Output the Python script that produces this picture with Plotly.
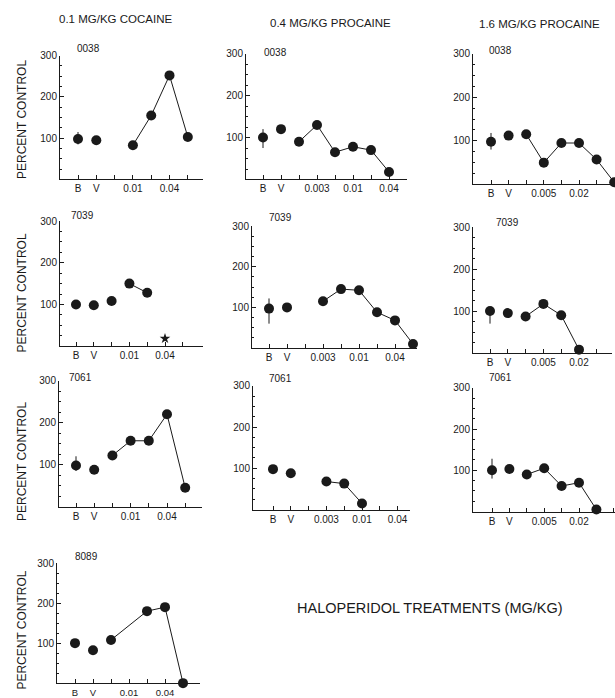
import plotly.graph_objects as go

W, H = 615, 698
OFF = 0  # body margin removed via post_script

# ---------------- tick labels / text ----------------
cocaine_ticks = ["B", "V", "", "0.01", "", "0.04", ""]
procaine04_ticks = ["B", "V", "", "0.003", "", "0.01", "", "0.04", ""]
procaine16_ticks = ["B", "V", "", "0.005", "", "0.02", "", ""]
column_titles = ["0.1 MG/KG COCAINE", "0.4 MG/KG PROCAINE", "1.6 MG/KG PROCAINE"]
animal_ids = ["0038", "0038", "0038", "7039", "7039", "7039", "7061", "7061", "7061", "8089"]
y_title = "PERCENT CONTROL"
footer = "HALOPERIDOL TREATMENTS (MG/KG)"

# ---------------- data (x = category index, y = percent control) ----------------
coc_0038_x = [0, 1, 3, 4, 5, 6]
coc_0038_y = [98, 95, 83, 155, 252, 103]
coc_0038_line = [3, 4, 5, 6]
coc_0038_err = [17, 13]

pro04_0038_x = [0, 1, 2, 3, 4, 5, 6, 7]
pro04_0038_y = [100, 120, 90, 130, 65, 78, 70, 18]
pro04_0038_line = [2, 3, 4, 5, 6, 7]
pro04_0038_err = [20, 25]

pro16_0038_x = [0, 1, 2, 3, 4, 5, 6, 7]
pro16_0038_y = [98, 112, 115, 50, 95, 95, 57, 5]
pro16_0038_line = [2, 3, 4, 5, 6, 7]
pro16_0038_err = [20, 18]

coc_7039_x = [0, 1, 2, 3, 4]
coc_7039_y = [100, 98, 108, 150, 128]
coc_7039_line = [3, 4]
coc_7039_err = [0, 0]
coc_7039_star_x = [5]
coc_7039_star_y = [18]

pro04_7039_x = [0, 1, 3, 4, 5, 6, 7, 8]
pro04_7039_y = [97, 100, 115, 145, 142, 88, 68, 10]
pro04_7039_line = [3, 4, 5, 6, 7, 8]
pro04_7039_err = [25, 37]

pro16_7039_x = [0, 1, 2, 3, 4, 5]
pro16_7039_y = [100, 95, 87, 117, 90, 8]
pro16_7039_line = [2, 3, 4, 5]
pro16_7039_err = [0, 30]

coc_7061_x = [0, 1, 2, 3, 4, 5, 6]
coc_7061_y = [98, 88, 122, 157, 157, 220, 45]
coc_7061_line = [2, 3, 4, 5, 6]
coc_7061_err = [22, 13]

pro04_7061_x = [0, 1, 3, 4, 5]
pro04_7061_y = [98, 88, 68, 63, 15]
pro04_7061_line = [3, 4, 5]
pro04_7061_err = [0, 0]

pro16_7061_x = [0, 1, 2, 3, 4, 5, 6]
pro16_7061_y = [100, 103, 90, 105, 62, 70, 5]
pro16_7061_line = [2, 3, 4, 5, 6]
pro16_7061_err = [28, 20]

coc_8089_x = [0, 1, 2, 4, 5, 6]
coc_8089_y = [100, 82, 108, 180, 190, 0]
coc_8089_line = [2, 4, 5, 6]
coc_8089_err = [0, 0]

panels = [
    (coc_0038_x, coc_0038_y, coc_0038_line, coc_0038_err, cocaine_ticks),
    (pro04_0038_x, pro04_0038_y, pro04_0038_line, pro04_0038_err, procaine04_ticks),
    (pro16_0038_x, pro16_0038_y, pro16_0038_line, pro16_0038_err, procaine16_ticks),
    (coc_7039_x, coc_7039_y, coc_7039_line, coc_7039_err, cocaine_ticks),
    (pro04_7039_x, pro04_7039_y, pro04_7039_line, pro04_7039_err, procaine04_ticks),
    (pro16_7039_x, pro16_7039_y, pro16_7039_line, pro16_7039_err, procaine16_ticks),
    (coc_7061_x, coc_7061_y, coc_7061_line, coc_7061_err, cocaine_ticks),
    (pro04_7061_x, pro04_7061_y, pro04_7061_line, pro04_7061_err, procaine04_ticks),
    (pro16_7061_x, pro16_7061_y, pro16_7061_line, pro16_7061_err, procaine16_ticks),
    (coc_8089_x, coc_8089_y, coc_8089_line, coc_8089_err, cocaine_ticks),
]

# ---------------- geometry (screen pixels): left, B position, spacing, right, top(300), baseline ----------------
geom = [
    (60, 78, 18.3, 203, 50, 175),
    (246, 263, 18.0, 407, 48, 175),
    (473, 491, 17.6, 615, 48, 180),
    (60, 76, 17.8, 203, 217, 343),
    (252, 269, 18.0, 417, 222, 345),
    (473, 490, 17.8, 612, 223, 350),
    (59, 76, 18.2, 202, 378, 505),
    (253, 273, 17.8, 410, 383, 508),
    (473, 492, 17.4, 615, 385, 510),
    (57, 75, 18.0, 200, 562, 683),
]
id_pos = [(88, 43), (275, 47), (500, 45), (82, 211), (280, 213), (507, 218),
          (80, 375), (280, 376), (500, 375), (86, 555)]
ytitle_pos = [(22, 115), (22, 290), (22, 460), (22, 630)]
coltitle_pos = [(115, 13), (330, 17), (539, 18)]

FONT = "Liberation Sans, Arial, sans-serif"
INK = "#1a1a1a"

fig = go.Figure()
layout = {}
annotations = []


def px_x(p):
    return (p - OFF) / W


def px_y(p):
    return 1 - (p - OFF) / H


def note(text, x, y, size, angle=0):
    return dict(text=text, x=px_x(x), y=px_y(y), xref="paper", yref="paper",
                xanchor="center", yanchor="middle", showarrow=False, textangle=angle,
                font=dict(family=FONT, size=size, color=INK))


for i, ((xs, ys, line_idx, err, ticks), (L, B, s, R, T, Bt)) in enumerate(zip(panels, geom)):
    n = i + 1
    xa = "x" if n == 1 else f"x{n}"
    ya = "y" if n == 1 else f"y{n}"
    xkey = "xaxis" if n == 1 else f"xaxis{n}"
    ykey = "yaxis" if n == 1 else f"yaxis{n}"

    lx = list(line_idx)
    ly = [ys[xs.index(x)] for x in line_idx]
    fig.add_trace(go.Scatter(x=lx, y=ly, mode="lines", xaxis=xa, yaxis=ya,
                             line=dict(color=INK, width=1), cliponaxis=False,
                             showlegend=False, hoverinfo="skip"))
    fig.add_trace(go.Scatter(x=[xs[0]], y=[ys[0]], mode="markers", xaxis=xa, yaxis=ya,
                             marker=dict(color=INK, size=10),
                             error_y=dict(type="data", symmetric=False, array=[err[0]],
                                          arrayminus=[err[1]], color=INK, thickness=1, width=0),
                             cliponaxis=False, showlegend=False))
    fig.add_trace(go.Scatter(x=xs[1:], y=ys[1:], mode="markers", xaxis=xa, yaxis=ya,
                             marker=dict(color=INK, size=10), cliponaxis=False,
                             showlegend=False))
    if n == 4:
        fig.add_trace(go.Scatter(x=coc_7039_star_x, y=coc_7039_star_y, mode="markers",
                                 xaxis=xa, yaxis=ya,
                                 marker=dict(color=INK, size=8, symbol="star"),
                                 cliponaxis=False, showlegend=False))

    layout[xkey] = dict(
        domain=[px_x(L), min(px_x(R), 1.0)], anchor=ya,
        range=[(L - B) / s, (R - B) / s],
        tickmode="array", tickvals=list(range(len(ticks))), ticktext=ticks,
        ticks="inside", ticklen=4, tickwidth=1, tickcolor=INK,
        showline=True, linecolor=INK, linewidth=1, showgrid=False, zeroline=False,
        tickfont=dict(family=FONT, size=10 if n != 10 else 9.5, color=INK),
    )
    layout[ykey] = dict(
        domain=[px_y(Bt), px_y(T)], anchor=xa, range=[0, 300],
        tickmode="array", tickvals=[100, 200, 300], ticktext=["100", "200", "300"],
        ticks="inside", ticklen=4, tickwidth=1, tickcolor=INK,
        minor=dict(tickmode="array", tickvals=[25, 50, 75, 125, 150, 175, 225, 250, 275],
                   ticks="inside", ticklen=2, tickcolor=INK),
        showline=True, linecolor=INK, linewidth=1, showgrid=False, zeroline=False,
        tickfont=dict(family=FONT, size=10, color=INK),
    )

    ix, iy = id_pos[i]
    annotations.append(note(animal_ids[i], ix, iy, 10))

for (tx, ty) in ytitle_pos:
    annotations.append(note(y_title, tx, ty, 12, -90))

for t, (tx, ty) in zip(column_titles, coltitle_pos):
    annotations.append(note(t, tx, ty, 11.5))

annotations.append(note(footer, 430, 607, 14.5))

fig.update_layout(width=W, height=H, margin=dict(l=0, r=0, t=0, b=0),
                  paper_bgcolor="white", plot_bgcolor="white",
                  annotations=annotations, showlegend=False, **layout)

fig.write_html("out.html", config={"displayModeBar": False},
               post_script="document.body.style.margin='0';document.body.style.overflow='hidden';")
